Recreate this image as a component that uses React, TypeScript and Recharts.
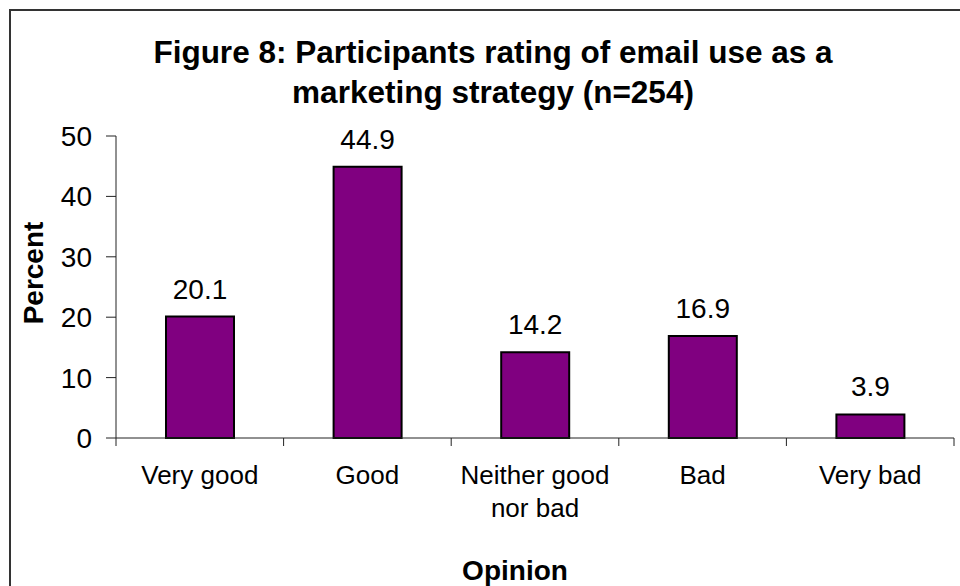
import { Bar, BarChart, LabelList, XAxis, YAxis } from "recharts"

const categories = ["Very good", "Good", "Neither good nor bad", "Bad", "Very bad"]
const tickLines = [["Very good"], ["Good"], ["Neither good", "nor bad"], ["Bad"], ["Very bad"]]
const percents = [20.1, 44.9, 14.2, 16.9, 3.9]
const yTicks = [0, 10, 20, 30, 40, 50]

const data = categories.map((c, i) => ({ name: c, value: percents[i] }))

const FONT = "'Liberation Sans', Arial, sans-serif"
const AXIS = "#222"
const X_TICK_SIZE = 8
const X_TICK_MARGIN = 20

function CategoryTick(props: any) {
  const { x, y, payload, index } = props
  const half = payload?.offset || 83.8
  const axisY = y - X_TICK_SIZE - X_TICK_MARGIN
  const lines = tickLines[index] || [String(payload.value)]
  return (
    <g>
      {index === 0 && (
        <line x1={x - half} x2={x - half} y1={axisY} y2={axisY + X_TICK_SIZE} stroke={AXIS} />
      )}
      <line x1={x + half} x2={x + half} y1={axisY} y2={axisY + X_TICK_SIZE} stroke={AXIS} />
      <text x={x} y={y} textAnchor="middle" fill="#000" fontSize={26} fontFamily={FONT}>
        {lines.map((l, i) => (
          <tspan key={l} x={x} dy={i === 0 ? "0.71em" : 33}>
            {l}
          </tspan>
        ))}
      </text>
    </g>
  )
}

export default function App() {
  return (
    <div
      style={{
        position: "absolute",
        left: 0,
        top: 0,
        width: 960,
        height: 586,
        overflow: "hidden",
        background: "#fff",
      }}
    >
      <div
        style={{
          position: "absolute",
          left: 9,
          top: 9,
          width: 1000,
          height: 700,
          borderTop: "2px solid #333",
          borderLeft: "2px solid #333",
        }}
      />
      <div style={{ position: "absolute", left: 0, top: 0 }}>
        <BarChart width={960} height={586} data={data} margin={{ top: 136, right: 6, bottom: 48, left: 0 }}>
          <XAxis
            dataKey="name"
            height={100}
            interval={0}
            tickLine={false}
            tickSize={X_TICK_SIZE}
            tickMargin={X_TICK_MARGIN}
            stroke={AXIS}
            tick={<CategoryTick />}
          />
          <YAxis
            width={116}
            domain={[0, 50]}
            ticks={yTicks}
            interval={0}
            tickSize={10}
            tickMargin={14}
            stroke={AXIS}
            tick={{ fill: "#000", fontSize: 28, fontFamily: FONT }}
          />
          <Bar dataKey="value" fill="#800080" stroke="#000" strokeWidth={2} barSize={68} isAnimationActive={false}>
            <LabelList dataKey="value" position="top" offset={18} fill="#000" fontSize={28} fontFamily={FONT} />
          </Bar>
          <text x={493} y={63} textAnchor="middle" fontSize={31.5} fontWeight="bold" fontFamily={FONT}>
            Figure 8: Participants rating of email use as a
          </text>
          <text x={493} y={103} textAnchor="middle" fontSize={31.5} fontWeight="bold" fontFamily={FONT}>
            marketing strategy (n=254)
          </text>
          <text
            x={43}
            y={273}
            transform="rotate(-90, 43, 273)"
            textAnchor="middle"
            fontSize={28}
            fontWeight="bold"
            fontFamily={FONT}
          >
            Percent
          </text>
          <text x={515} y={580} textAnchor="middle" fontSize={28} fontWeight="bold" fontFamily={FONT}>
            Opinion
          </text>
        </BarChart>
      </div>
    </div>
  )
}
